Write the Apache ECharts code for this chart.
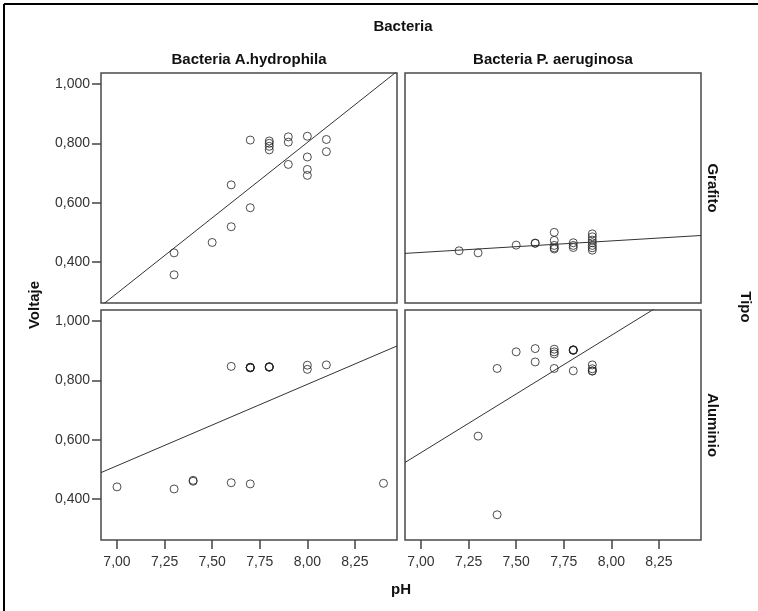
<!DOCTYPE html>
<html>
<head>
<meta charset="utf-8">
<script src="https://cdn.jsdelivr.net/npm/echarts@6/dist/echarts.min.js"></script>
<style>
  html, body { margin: 0; padding: 0; background: #ffffff; }
  #chart { width: 758px; height: 611px; }
</style>
</head>
<body>
<div id="chart"></div>
<script>
// Panel headers
const bacteriaNames = ['Bacteria A.hydrophila', 'Bacteria P. aeruginosa'];
const tipoNames = ['Grafito', 'Aluminio'];

// Axis ticks
const xTicks = [7.00, 7.25, 7.50, 7.75, 8.00, 8.25];
const yTicks = [0.400, 0.600, 0.800, 1.000];

// A.hydrophila / Grafito
const hydGrafitoPH = [7.3, 7.3, 7.5, 7.6, 7.6, 7.7, 7.7, 7.8, 7.8, 7.8, 7.8, 7.9, 7.9, 7.9, 8.0, 8.0, 8.0, 8.0, 8.1, 8.1];
const hydGrafitoV  = [0.431, 0.357, 0.466, 0.519, 0.660, 0.583, 0.811, 0.808, 0.800, 0.790, 0.778, 0.822, 0.804, 0.729, 0.824, 0.754, 0.712, 0.692, 0.813, 0.772];

// P. aeruginosa / Grafito
const aerGrafitoPH = [7.2, 7.3, 7.5, 7.6, 7.6, 7.7, 7.7, 7.7, 7.7, 7.7, 7.8, 7.8, 7.8, 7.9, 7.9, 7.9, 7.9, 7.9, 7.9, 7.9];
const aerGrafitoV  = [0.438, 0.431, 0.457, 0.463, 0.464, 0.500, 0.473, 0.456, 0.448, 0.444, 0.465, 0.456, 0.449, 0.495, 0.485, 0.474, 0.465, 0.456, 0.448, 0.440];

// A.hydrophila / Aluminio
const hydAluminioPH = [7.0, 7.3, 7.4, 7.4, 7.6, 7.7, 8.4, 7.6, 7.7, 7.7, 7.7, 7.7, 7.7, 7.8, 7.8, 7.8, 7.8, 8.0, 8.0, 8.1];
const hydAluminioV  = [0.441, 0.434, 0.460, 0.463, 0.455, 0.451, 0.453, 0.847, 0.843, 0.843, 0.842, 0.844, 0.843, 0.845, 0.845, 0.844, 0.846, 0.851, 0.837, 0.852];

// P. aeruginosa / Aluminio
const aerAluminioPH = [7.3, 7.4, 7.4, 7.5, 7.6, 7.6, 7.7, 7.7, 7.7, 7.7, 7.8, 7.8, 7.8, 7.8, 7.8, 7.9, 7.9, 7.9, 7.9];
const aerAluminioV  = [0.612, 0.347, 0.840, 0.896, 0.907, 0.862, 0.905, 0.896, 0.889, 0.840, 0.902, 0.901, 0.902, 0.903, 0.832, 0.852, 0.839, 0.832, 0.831];

const panels = [
  { row: 0, col: 0, ph: hydGrafitoPH,  v: hydGrafitoV },
  { row: 0, col: 1, ph: aerGrafitoPH,  v: aerGrafitoV },
  { row: 1, col: 0, ph: hydAluminioPH, v: hydAluminioV },
  { row: 1, col: 1, ph: aerAluminioPH, v: aerAluminioV }
];

const X_MIN = 6.916, X_MAX = 8.471;
const Y_MIN = 0.262, Y_MAX = 1.037;
const GRID_LEFT = [101, 405];
const GRID_TOP = [73, 310];
const GRID_W = 296, GRID_H = 230;

const FONT = '"Liberation Sans", Arial, sans-serif';
const fmtX = v => v.toFixed(2).replace('.', ',');
const fmtY = v => v.toFixed(3).replace('.', ',');

// ordinary least squares fit line
function fitLine(xs, ys) {
  const n = xs.length;
  const mx = xs.reduce((a, b) => a + b, 0) / n;
  const my = ys.reduce((a, b) => a + b, 0) / n;
  let sxx = 0, sxy = 0;
  for (let i = 0; i < n; i++) {
    sxx += (xs[i] - mx) * (xs[i] - mx);
    sxy += (xs[i] - mx) * (ys[i] - my);
  }
  const b = sxy / sxx;
  const a = my - b * mx;
  return [[X_MIN, a + b * X_MIN], [X_MAX, a + b * X_MAX]];
}

const grid = [], xAxis = [], yAxis = [], series = [];
panels.forEach((p, i) => {
  grid.push({
    left: GRID_LEFT[p.col], top: GRID_TOP[p.row], width: GRID_W, height: GRID_H,
    show: true, borderColor: '#4a4a4a', borderWidth: 1.5, backgroundColor: '#ffffff'
  });
  const bottomRow = p.row === 1;
  const leftCol = p.col === 0;
  xAxis.push({
    type: 'value', gridIndex: i, min: X_MIN, max: X_MAX,
    splitLine: { show: false },
    axisLine: { show: false },
    axisTick: { show: bottomRow, length: 9, customValues: xTicks, lineStyle: { color: '#444', width: 1.5 } },
    axisLabel: {
      show: bottomRow, customValues: xTicks, margin: 15,
      formatter: fmtX, color: '#333', fontSize: 14, fontFamily: FONT
    }
  });
  yAxis.push({
    type: 'value', gridIndex: i, min: Y_MIN, max: Y_MAX,
    splitLine: { show: false },
    axisLine: { show: false },
    axisTick: { show: leftCol, length: 9, customValues: yTicks, lineStyle: { color: '#444', width: 1.5 } },
    axisLabel: {
      show: leftCol, customValues: yTicks, margin: 11,
      formatter: fmtY, color: '#333', fontSize: 14, fontFamily: FONT
    }
  });
  series.push({
    type: 'line', xAxisIndex: i, yAxisIndex: i,
    data: fitLine(p.ph, p.v),
    symbol: 'none', silent: true, clip: true,
    lineStyle: { color: '#333', width: 1 }
  });
  series.push({
    type: 'scatter', xAxisIndex: i, yAxisIndex: i,
    data: p.ph.map((x, k) => [x, p.v[k]]),
    symbol: 'circle', symbolSize: 8,
    itemStyle: { color: 'rgba(255,255,255,0)', borderColor: '#222', borderWidth: 1 }
  });
});

const titleStyle = (text) => ({
  text, fill: '#111', font: 'bold 15px ' + FONT, align: 'center', verticalAlign: 'middle'
});

const graphic = [
  // outer frame
  { type: 'line', shape: { x1: 4, y1: 4, x2: 4, y2: 611 }, style: { stroke: '#000', lineWidth: 2 } },
  { type: 'line', shape: { x1: 4, y1: 4, x2: 758, y2: 4 }, style: { stroke: '#000', lineWidth: 2 } },
  { type: 'text', x: 403, y: 27, style: titleStyle('Bacteria') },
  { type: 'text', x: GRID_LEFT[0] + GRID_W / 2, y: 60, style: titleStyle(bacteriaNames[0]) },
  { type: 'text', x: GRID_LEFT[1] + GRID_W / 2, y: 60, style: titleStyle(bacteriaNames[1]) },
  { type: 'text', x: 712, y: GRID_TOP[0] + GRID_H / 2, rotation: -Math.PI / 2, style: titleStyle(tipoNames[0]) },
  { type: 'text', x: 712, y: GRID_TOP[1] + GRID_H / 2, rotation: -Math.PI / 2, style: titleStyle(tipoNames[1]) },
  { type: 'text', x: 745, y: 307, rotation: -Math.PI / 2, style: titleStyle('Tipo') },
  { type: 'text', x: 35, y: 305, rotation: Math.PI / 2, style: titleStyle('Voltaje') },
  { type: 'text', x: 401, y: 590, style: titleStyle('pH') }
];

const chart = echarts.init(document.getElementById('chart'), null, { renderer: 'canvas' });
chart.setOption({
  animation: false,
  backgroundColor: '#ffffff',
  grid, xAxis, yAxis, series, graphic
});
</script>
</body>
</html>
